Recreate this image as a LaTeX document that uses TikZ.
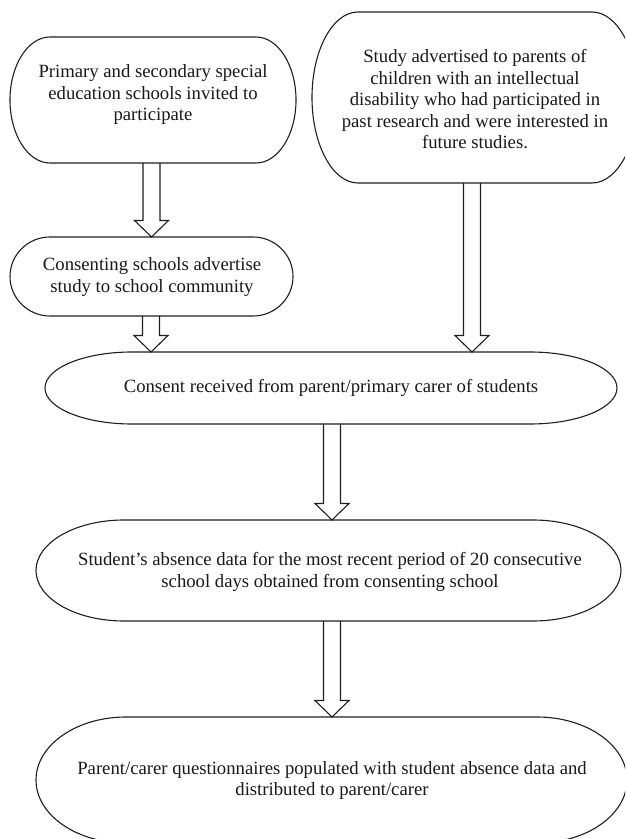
\documentclass[tikz,border=0pt]{standalone}
\usepackage{fontspec}
\setmainfont{Liberation Serif}
\usetikzlibrary{calc}
\tikzset{
  boxline/.style={draw=black!88, line width=1.1pt},
  arrowbox/.style={draw=black!88, line width=1.1pt, line join=miter},
  label/.style={align=center, inner sep=0pt, font=\fontsize{18.7}{21.5}\selectfont, text=black!90}
}
% name, left, top, right, bottom, x radius of the ends
\newcommand\stadiumbox[6]{%
  \pgfmathsetmacro\sry{(#3-#5)/2}%
  \draw[boxline] (#2+#6,#3) -- (#4-#6,#3)
    arc[start angle=90,end angle=-90,x radius=#6pt,y radius=\sry pt]
    -- (#2+#6,#5)
    arc[start angle=270,end angle=90,x radius=#6pt,y radius=\sry pt] -- cycle;
}
% hollow block arrow from coordinate #1 down to tip coordinate #2
\newcommand\blockarrow[2]{%
  \draw[arrowbox] ($(#1)+(-8.5,0)$) -- ($(#2)+(-8.5,16.5)$) -- ($(#2)+(-17,16.5)$)
    -- (#2) -- ($(#2)+(17,16.5)$) -- ($(#2)+(8.5,16.5)$) -- ($(#1)+(8.5,0)$);
}
\begin{document}
\begin{tikzpicture}[x=1pt,y=1pt]
\useasboundingbox (0,0) rectangle (625,839);
\fill[white] (0,0) rectangle (625,839);
\clip (0,0) rectangle (625,839);

% boxes
\stadiumbox{b1}{10}{802}{296}{676}{40}
\stadiumbox{b2}{312}{827}{638}{656}{46}
\stadiumbox{b3}{10}{602}{293}{523}{40}
\stadiumbox{b4}{45}{487}{617}{415}{87}
\stadiumbox{b5}{36}{319}{621}{218}{88}
\stadiumbox{b6}{36}{122}{627}{-4}{90}

% texts
\node[label] (t1) at (153,744) {Primary and secondary special\\education schools invited to\\participate};
\node[label] (t2) at (475,739.5) {Study advertised to parents of\\children with an intellectual\\disability who had participated in\\past research and were interested in\\future studies.};
\node[label] (t3) at (152,562) {Consenting schools advertise\\study to school community};
\node[label] (t4) at (331,451) {Consent received from parent/primary carer of students};
\node[label] (t5) at (330,267) {Student\symbol{39}s absence data for the most recent period of 20 consecutive\\school days obtained from consenting school};
\node[label] (t6) at (332,58.5) {Parent/carer questionnaires populated with student absence data and\\distributed to parent/carer};

% connector end points on box edges
\coordinate (b1s) at (151.5,676);
\coordinate (b3n) at (151.5,602);
\coordinate (b3s) at (151,523);
\coordinate (b4nl) at (151,487);
\coordinate (b2s) at (472,656);
\coordinate (b4nr) at (472,487);
\coordinate (b4s) at (332,415);
\coordinate (b5n) at (332,319);
\coordinate (b5s) at (332,218);
\coordinate (b6n) at (332,122);

% arrows
\blockarrow{b1s}{b3n}
\blockarrow{b3s}{b4nl}
\blockarrow{b2s}{b4nr}
\blockarrow{b4s}{b5n}
\blockarrow{b5s}{b6n}
\end{tikzpicture}
\end{document}
